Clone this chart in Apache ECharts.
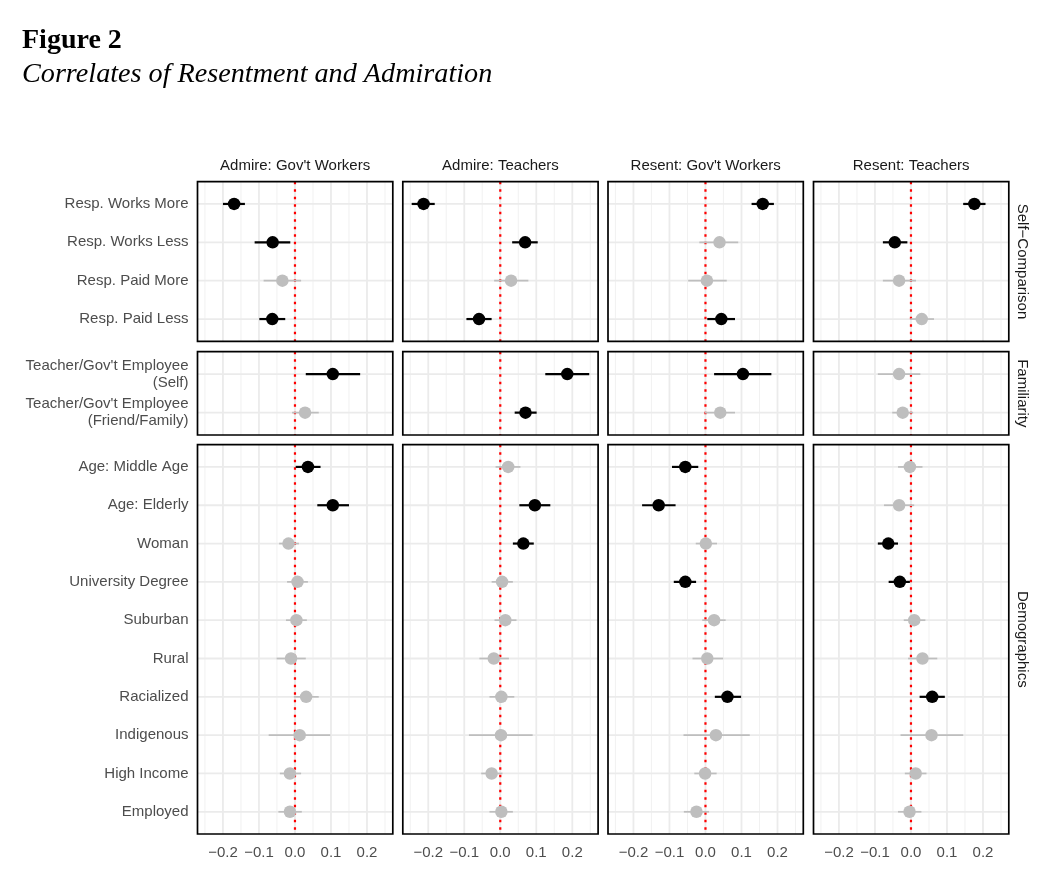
<!DOCTYPE html>
<html><head><meta charset="utf-8">
<script src="https://cdn.jsdelivr.net/npm/echarts@6/dist/echarts.min.js"></script>
<style>html,body{margin:0;padding:0;background:#fff}#c{width:1062px;height:891px}</style>
</head><body><div id="c"></div>
<script>
// ---------- data ----------
const OUTCOMES = ["Admire: Gov't Workers", "Admire: Teachers", "Resent: Gov't Workers", "Resent: Teachers"];
const GROUPS = ["Self\u2212Comparison", "Familiarity", "Demographics"];
const CATS_SELF = ["Resp. Works More", "Resp. Works Less", "Resp. Paid More", "Resp. Paid Less"];
const CATS_FAM = ["Teacher/Gov't Employee\n(Self)", "Teacher/Gov't Employee\n(Friend/Family)"];
const CATS_DEMO = ["Age: Middle Age", "Age: Elderly", "Woman", "University Degree", "Suburban", "Rural", "Racialized", "Indigenous", "High Income", "Employed"];

// order: 4 self-comparison, 2 familiarity, 10 demographics
const EST_ADMIRE_GOV = [-0.169, -0.062, -0.035, -0.063, 0.105, 0.028, 0.036, 0.105, -0.018, 0.007, 0.004, -0.011, 0.031, 0.013, -0.014, -0.014];
const LO_ADMIRE_GOV  = [-0.200, -0.112, -0.087, -0.099, 0.030, -0.008, 0.002, 0.062, -0.044, -0.022, -0.025, -0.051, -0.003, -0.073, -0.042, -0.046];
const HI_ADMIRE_GOV  = [-0.139, -0.013, 0.017, -0.027, 0.181, 0.066, 0.071, 0.150, 0.011, 0.036, 0.033, 0.030, 0.066, 0.098, 0.017, 0.019];

const EST_ADMIRE_TEA = [-0.213, 0.069, 0.030, -0.059, 0.186, 0.070, 0.022, 0.096, 0.064, 0.005, 0.014, -0.018, 0.003, 0.002, -0.024, 0.003];
const LO_ADMIRE_TEA  = [-0.246, 0.033, -0.017, -0.094, 0.125, 0.040, -0.013, 0.053, 0.035, -0.024, -0.016, -0.058, -0.030, -0.087, -0.053, -0.030];
const HI_ADMIRE_TEA  = [-0.182, 0.104, 0.078, -0.024, 0.247, 0.101, 0.056, 0.139, 0.093, 0.035, 0.045, 0.024, 0.039, 0.090, 0.006, 0.035];

const EST_RESENT_GOV = [0.159, 0.039, 0.004, 0.044, 0.104, 0.041, -0.056, -0.130, 0.001, -0.056, 0.024, 0.005, 0.061, 0.029, -0.001, -0.025];
const LO_RESENT_GOV  = [0.128, -0.017, -0.048, 0.005, 0.024, -0.002, -0.093, -0.176, -0.027, -0.088, -0.009, -0.036, 0.026, -0.061, -0.031, -0.060];
const HI_RESENT_GOV  = [0.190, 0.091, 0.059, 0.082, 0.183, 0.082, -0.020, -0.083, 0.032, -0.026, 0.056, 0.049, 0.099, 0.123, 0.031, 0.010];

const EST_RESENT_TEA = [0.176, -0.045, -0.033, 0.030, -0.033, -0.023, -0.003, -0.033, -0.063, -0.031, 0.009, 0.032, 0.059, 0.057, 0.013, -0.004];
const LO_RESENT_TEA  = [0.145, -0.078, -0.078, -0.002, -0.092, -0.052, -0.036, -0.075, -0.092, -0.062, -0.020, -0.008, 0.024, -0.029, -0.017, -0.036];
const HI_RESENT_TEA  = [0.207, -0.010, 0.014, 0.064, 0.026, 0.006, 0.032, 0.009, -0.036, -0.003, 0.040, 0.073, 0.094, 0.145, 0.043, 0.029];

const X_TICKS = [-0.2, -0.1, 0, 0.1, 0.2];
const X_MINOR = [-0.25, -0.15, -0.05, 0.05, 0.15, 0.25];

// ---------- assembly ----------
const EST = [EST_ADMIRE_GOV, EST_ADMIRE_TEA, EST_RESENT_GOV, EST_RESENT_TEA];
const LO = [LO_ADMIRE_GOV, LO_ADMIRE_TEA, LO_RESENT_GOV, LO_RESENT_TEA];
const HI = [HI_ADMIRE_GOV, HI_ADMIRE_TEA, HI_RESENT_GOV, HI_RESENT_TEA];
const ROW_CATS = [CATS_SELF, CATS_FAM, CATS_DEMO];

const COL_LEFT = [197.5, 402.8, 608, 813.5], COL_W = 195.3;
const ROW_TOP = [181.7, 351.7, 444.7], ROW_H = [159.6, 83.3, 389.3];
const PAD = 0.58;
const SANS = "'Liberation Sans', Arial, sans-serif";
const SERIF = "'Liberation Serif', 'Times New Roman', serif";
const FS = 15;

const allLo = [].concat(...LO), allHi = [].concat(...HI);
const lo0 = Math.min(...allLo), hi0 = Math.max(...allHi), span = hi0 - lo0;
const XMIN = lo0 - 0.05 * span, XMAX = hi0 + 0.05 * span;

const fmtX = v => (v < -1e-9 ? '\u2212' : '') + Math.abs(v).toFixed(1);

const grids = [], xAxes = [], yAxes = [], series = [];

function bgRender(n) {
  return function (params, api) {
    const cs = params.coordSys;
    const ch = [];
    const vline = (v, w, stroke, dash) => {
      const x = api.coord([v, 0])[0];
      const st = { stroke: stroke, lineWidth: w };
      if (dash) st.lineDash = dash;
      ch.push({ type: 'line', shape: { x1: x, y1: cs.y, x2: x, y2: cs.y + cs.height }, style: st });
    };
    X_MINOR.forEach(v => vline(v, 0.9, '#EFEFEF'));
    X_TICKS.forEach(v => vline(v, 1.8, '#EBEBEB'));
    for (let i = 0; i < n; i++) {
      const y = api.coord([0, i])[1];
      ch.push({ type: 'line', shape: { x1: cs.x, y1: y, x2: cs.x + cs.width, y2: y }, style: { stroke: '#EBEBEB', lineWidth: 1.8 } });
    }
    vline(0, 2.2, '#FF0000', [2.6, 4.9]);
    return { type: 'group', children: ch };
  };
}
function frameRender(params, api) {
  const cs = params.coordSys;
  return { type: 'rect', shape: { x: cs.x, y: cs.y, width: cs.width, height: cs.height }, style: { fill: 'none', stroke: '#000', lineWidth: 1.7 } };
}
function barRender(params, api) {
  const y = api.value(2);
  const a = api.coord([api.value(0), y]);
  const b = api.coord([api.value(1), y]);
  const s = api.value(3) === 1;
  return { type: 'line', shape: { x1: a[0], y1: a[1], x2: b[0], y2: b[1] }, style: { stroke: s ? '#000000' : '#BEBEBE', lineWidth: s ? 2.2 : 1.7 } };
}

const OFFS = [0, 4, 6];
for (let r = 0; r < 3; r++) {
  const cats = ROW_CATS[r], n = cats.length;
  for (let c = 0; c < 4; c++) {
    const g = grids.length;
    grids.push({ left: COL_LEFT[c], top: ROW_TOP[r], width: COL_W, height: ROW_H[r], show: false });
    xAxes.push({
      type: 'value', gridIndex: g, min: XMIN, max: XMAX,
      axisLine: { show: false }, axisTick: { show: false }, splitLine: { show: false },
      axisLabel: {
        show: r === 2, customValues: X_TICKS, formatter: fmtX, margin: 11,
        color: '#4D4D4D', fontSize: FS, fontFamily: SANS
      }
    });
    const idx = cats.map((_, j) => j);
    yAxes.push({
      type: 'value', gridIndex: g, min: -PAD, max: n - 1 + PAD, inverse: true,
      axisLine: { show: false }, axisTick: { show: false }, splitLine: { show: false },
      axisLabel: {
        show: c === 0, customValues: idx, formatter: v => cats[Math.round(v)] || '',
        margin: 9, color: '#4D4D4D', fontSize: FS, fontFamily: SANS, lineHeight: 16.7, align: 'right'
      }
    });
    const items = [];
    for (let j = 0; j < n; j++) {
      const k = OFFS[r] + j;
      const lo = LO[c][k], hi = HI[c][k];
      items.push({ est: EST[c][k], lo: lo, hi: hi, j: j, sig: (lo > 0 || hi < 0) });
    }
    series.push({ type: 'custom', xAxisIndex: g, yAxisIndex: g, z: 1, silent: true, renderItem: bgRender(n), data: [[0, 0]] });
    series.push({
      type: 'custom', xAxisIndex: g, yAxisIndex: g, z: 2, silent: true, renderItem: barRender,
      encode: { x: [0, 1], y: 2 },
      data: items.map(d => [d.lo, d.hi, d.j, d.sig ? 1 : 0])
    });
    series.push({
      type: 'scatter', xAxisIndex: g, yAxisIndex: g, z: 3, silent: true, symbol: 'circle', symbolSize: 12.5,
      data: items.map(d => ({ value: [d.est, d.j], itemStyle: { color: d.sig ? '#000000' : '#BEBEBE', opacity: 1 } }))
    });
    series.push({ type: 'custom', xAxisIndex: g, yAxisIndex: g, z: 10, silent: true, renderItem: frameRender, data: [[0, 0]] });
  }
}

const graphics = [
  { type: 'text', left: 22, top: 27, style: { text: 'Figure 2', font: "bold 28px " + SERIF, fill: '#000' } },
  { type: 'text', left: 22, top: 61, style: { text: 'Correlates of Resentment and Admiration', font: "italic 28.2px " + SERIF, fill: '#000' } }
];
OUTCOMES.forEach((t, c) => {
  graphics.push({ type: 'text', x: COL_LEFT[c] + COL_W / 2, y: 166, style: { text: t, font: FS + "px " + SANS, fill: '#1A1A1A', align: 'center', verticalAlign: 'middle' } });
});
GROUPS.forEach((t, r) => {
  graphics.push({ type: 'text', x: 1022, y: ROW_TOP[r] + ROW_H[r] / 2, rotation: -Math.PI / 2, style: { text: t, font: FS + "px " + SANS, fill: '#1A1A1A', align: 'center', verticalAlign: 'middle' } });
});

const chart = echarts.init(document.getElementById('c'), null, { renderer: 'canvas' });
chart.setOption({
  animation: false,
  backgroundColor: '#ffffff',
  grid: grids, xAxis: xAxes, yAxis: yAxes, series: series,
  graphic: graphics
});
</script>
</body></html>
